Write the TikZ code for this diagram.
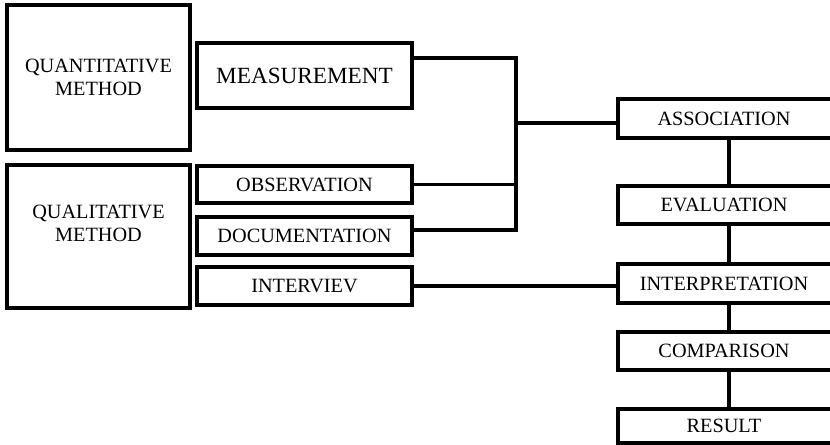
\documentclass[tikz,border=0pt]{standalone}
\usepackage{fontspec}
\setmainfont{Liberation Serif}
\tikzset{
    box/.style={draw, line width=2.8pt, inner sep=0pt},
    lbl/.style={align=center, font=\fontsize{17.3}{19.8}\selectfont},
    conn/.style={line width=2.6pt}
}
\begin{document}
\begin{tikzpicture}[x=0.03cm, y=-0.03cm]
                    \useasboundingbox (0,0) rectangle (830,445);
                    \clip (0,0) rectangle (830,445);

                    % left column
                    \node (quant) at (98.5,77.5) [box, minimum width=5.49cm, minimum height=4.35cm] {};
                    \node (qual) at (98.5,236.5) [box, minimum width=5.49cm, minimum height=4.29cm] {};

                    % middle column
                    \node (meas) at (304.5,75.5) [box, minimum width=6.45cm, minimum height=1.95cm] {};
                    \node (obs) at (304.5,184.5) [box, minimum width=6.45cm, minimum height=1.11cm] {};
                    \node (doc) at (304.5,236) [box, minimum width=6.45cm, minimum height=1.14cm] {};
                    \node (intv) at (304.5,286) [box, minimum width=6.45cm, minimum height=1.14cm] {};

                    % right column
                    \node (assoc) at (729,118.5) [box, minimum width=6.66cm, minimum height=1.17cm] {};
                    \node (eval) at (729,205) [box, minimum width=6.66cm, minimum height=1.14cm] {};
                    \node (interp) at (729,283.5) [box, minimum width=6.66cm, minimum height=1.17cm] {};
                    \node (comp) at (729,351) [box, minimum width=6.66cm, minimum height=1.14cm] {};
                    \node (res) at (729,426) [box, minimum width=6.66cm, minimum height=1.02cm] {};

                    \node (btop) [coordinate] at (516,58) {};
                    \node (bbot) [coordinate] at (516,230) {};
                    \node (bmid) [coordinate] at (516,123) {};

                    \draw [conn] (meas.east |- btop) -- (btop) -- (bbot) -- (doc.east |- bbot);
                    \path [conn]
                        (obs.east) edge (obs.east -| btop)
                        (bmid) edge (assoc.west |- bmid)
                        (intv.east) edge (intv.east -| interp.west)
                        (assoc.south) edge (eval.north)
                        (eval.south) edge (interp.north)
                        (interp.south) edge (comp.north)
                        (comp.south) edge (res.north)
                    ;

                    \node [lbl] at (quant) {QUANTITATIVE\\METHOD};
                    \node [lbl] at (98.5,223) {QUALITATIVE\\METHOD};
                    \node [lbl, font=\fontsize{19.8}{22}\selectfont] at (meas) {MEASUREMENT};
                    \node [lbl] at (obs) {OBSERVATION};
                    \node [lbl] at (doc) {DOCUMENTATION};
                    \node [lbl] at (intv) {INTERVIEV};
                    \node [lbl] at (724,118.5) {ASSOCIATION};
                    \node [lbl] at (724,205) {EVALUATION};
                    \node [lbl] at (724,283.5) {INTERPRETATION};
                    \node [lbl] at (724,351) {COMPARISON};
                    \node [lbl] at (724,426) {RESULT};
                \end{tikzpicture}
\end{document}
